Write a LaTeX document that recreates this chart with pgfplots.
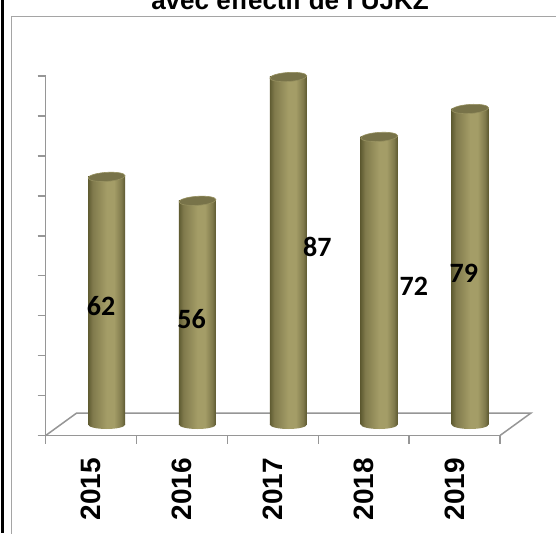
\documentclass[border=0pt]{standalone}
\usepackage{pgfplots}
\pgfplotsset{compat=1.18}
\usepackage{fontspec}
\setmainfont{Liberation Sans}
\newfontfamily\calibri{Carlito}
\definecolor{axgray}{RGB}{150,150,150}
\definecolor{frgray}{RGB}{165,165,165}
\definecolor{cylA}{RGB}{96,92,50}
\definecolor{cylB}{RGB}{128,122,76}
\definecolor{cylC}{RGB}{164,157,103}
\definecolor{cylD}{RGB}{92,88,48}
\definecolor{cyltopc}{RGB}{120,115,73}
\definecolor{cylrim}{RGB}{150,144,95}
\pgfdeclarehorizontalshading{cyl}{100bp}{color(0bp)=(cylA); color(25bp)=(cylA); color(31bp)=(cylB); color(50bp)=(cylC); color(60bp)=(cylC); color(70bp)=(cylB); color(75bp)=(cylD); color(100bp)=(cylD)}
\pgfdeclareplotmark{cyltop}{%
  \pgfpathellipse{\pgfpointorigin}{\pgfpoint{18.45pt}{1.2pt}}{\pgfpoint{-0.3pt}{4.5pt}}%
  \pgfusepathqfillstroke}
\pgfdeclareplotmark{cylbot}{%
  \pgfpathellipse{\pgfpointorigin}{\pgfpoint{18.5pt}{0pt}}{\pgfpoint{0pt}{4.5pt}}%
  \pgfshadepath{cyl}{0}\pgfusepath{discard}}
\pgfplotsset{cylbar/.style={ybar, bar width=37pt, bar shift=0pt, draw=none, shading=cyl, shade},
  geom/.style={anchor=south west, scale only axis, width=454.3pt, height=359.5pt,
    xmin=-0.5, xmax=4.5, ymin=0, ymax=90, clip=false}}
\begin{document}
\begin{tikzpicture}[x=1pt,y=1pt]
\clip (0,0) rectangle (556,533);
\fill[white] (0,0) rectangle (556,533);
\fill[black] (1,0) rectangle (4,533);
\draw[frgray, line width=1.5pt] (11.5,-5) -- (11.5,516.5) -- (560,516.5);
\node[font=\bfseries\fontsize{26}{26}\selectfont, anchor=base] at (290,523.5) {avec effectif de l'UJKZ};

% front plane: axis lines, ticks, floor
\begin{axis}[geom, at={(45.7pt,97.5pt)},
  axis lines*=left,
  axis line style={axgray, line width=1.5pt},
  tick align=outside,
  major tick length=8pt,
  tick style={axgray, line width=1.5pt},
  ytick={0,10,...,90}, yticklabels={},
  xtick=\empty]
\draw[axgray, line width=1.5pt] (axis cs:-0.5,0) -- (axis cs:-0.159,5.63) -- (axis cs:4.841,5.63) -- (axis cs:4.5,0);
\draw[axgray, line width=1.5pt] (axis cs:-0.5,0) -- ++(0pt,-8pt);
\draw[axgray, line width=1.5pt] (axis cs:0.5,0) -- ++(0pt,-8pt);
\draw[axgray, line width=1.5pt] (axis cs:1.5,0) -- ++(0pt,-8pt);
\draw[axgray, line width=1.5pt] (axis cs:2.5,0) -- ++(0pt,-8pt);
\draw[axgray, line width=1.5pt] (axis cs:3.5,0) -- ++(0pt,-8pt);
\draw[axgray, line width=1.5pt] (axis cs:4.5,0) -- ++(0pt,-8pt);
\end{axis}

% category labels
\begin{axis}[geom, at={(45.7pt,97.5pt)},
  axis y line=none, axis x line*=bottom,
  x axis line style={draw=none},
  major tick length=0pt, tick style={draw=none},
  ytick=\empty,
  xtick={0,1,2,3,4}, xticklabels={2015,2016,2017,2018,2019},
  xticklabel style={rotate=90, anchor=east, inner sep=0pt,
    font=\bfseries\fontsize{28}{28}\selectfont, xshift=1.5pt},
  xticklabel shift=24pt]
\end{axis}

% cylinders
\begin{axis}[geom, at={(61.2pt,108.5pt)}, hide axis]
\addplot[only marks, mark=cylbot] coordinates {(0,0) (1,0) (2,0) (3,0) (4,0)};
\addplot[cylbar] coordinates {(0,62)};
\addplot[cylbar] coordinates {(1,56)};
\addplot[cylbar] coordinates {(2,87)};
\addplot[cylbar] coordinates {(3,72)};
\addplot[cylbar] coordinates {(4,79)};
\addplot[only marks, mark=cyltop, mark options={fill=cyltopc, draw=cylrim, line width=0.6pt}]
  coordinates {(0,62) (1,56) (2,87) (3,72) (4,79)};
\begin{scope}[every node/.style={font=\calibri\bfseries\fontsize{28}{28}\selectfont, inner sep=0pt}]
\node at (axis cs:-0.062,29.65) {62};
\node at (axis cs:0.934,26.45) {56};
\node at (axis cs:2.320,44.55) {87};
\node at (axis cs:3.382,34.55) {72};
\node at (axis cs:3.931,37.95) {79};
\end{scope}
\end{axis}
\end{tikzpicture}
\end{document}
